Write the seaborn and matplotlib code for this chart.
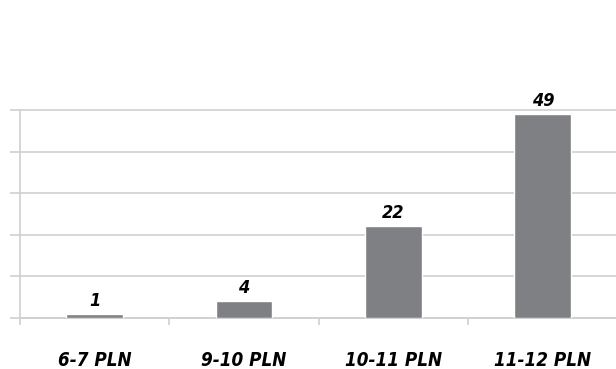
import matplotlib
matplotlib.use("Agg")
import matplotlib.pyplot as plt
import seaborn as sns
import pandas as pd
import numpy as np

# Price ranges and number of responses
categories = ["6-7 PLN", "9-10 PLN", "10-11 PLN", "11-12 PLN"]
counts = [1, 4, 22, 49]
y_ticks = [0, 10, 20, 30, 40, 50]

df = pd.DataFrame({"price": categories, "count": counts})

sns.set_theme(style="white")
plt.rcParams["font.family"] = ["DejaVu Sans"]

grid_col = "#d0d0d0"
bar_col = "#7f8083"

fig = plt.figure(figsize=(6.16, 3.69), dpi=100)
W, H = 616, 369
left, right, top, bottom = 20, 617.5, 110, 318
ax = fig.add_axes([left / W, (H - bottom) / H, (right - left) / W, (bottom - top) / H])

sns.barplot(data=df, x="price", y="count", color=bar_col, width=0.38,
            saturation=1, ax=ax, zorder=3)

ax.set_xlim(-0.5, len(categories) - 0.5)
ax.set_ylim(0, 50)
ax.set_yticks(y_ticks)
ax.set_yticklabels([])
ax.yaxis.grid(True, color=grid_col, linewidth=1.2, zorder=0)
ax.set_axisbelow(True)
ax.set_xlabel("")
ax.set_ylabel("")

for side in ["top", "right"]:
    ax.spines[side].set_visible(False)
for side in ["left", "bottom"]:
    ax.spines[side].set_color(grid_col)
    ax.spines[side].set_linewidth(1.2)

# y ticks stick out to the left of the axis
ax.tick_params(axis="y", length=7.2, width=1.2, color=grid_col, left=True)

# category boundary ticks below the baseline
ax.set_xticks(np.arange(-0.5, len(categories), 1.0), minor=True)
ax.tick_params(axis="x", which="minor", length=5, width=1.2, color=grid_col, bottom=True)
ax.tick_params(axis="x", which="major", length=0, pad=24)
for lbl in ax.get_xticklabels():
    lbl.set_fontsize(13.5)
    lbl.set_fontweight("bold")
    lbl.set_fontstyle("italic")
    lbl.set_fontstretch("condensed")
    lbl.set_color("black")

# value labels above the bars
ax.bar_label(ax.containers[0], labels=[str(v) for v in counts], padding=3,
             fontsize=13, fontweight="bold", fontstyle="italic",
             fontstretch="condensed", color="black")

for line in ax.get_ygridlines():
    line.set_clip_on(False)

fig.savefig("out.png", dpi=100, facecolor="white")
